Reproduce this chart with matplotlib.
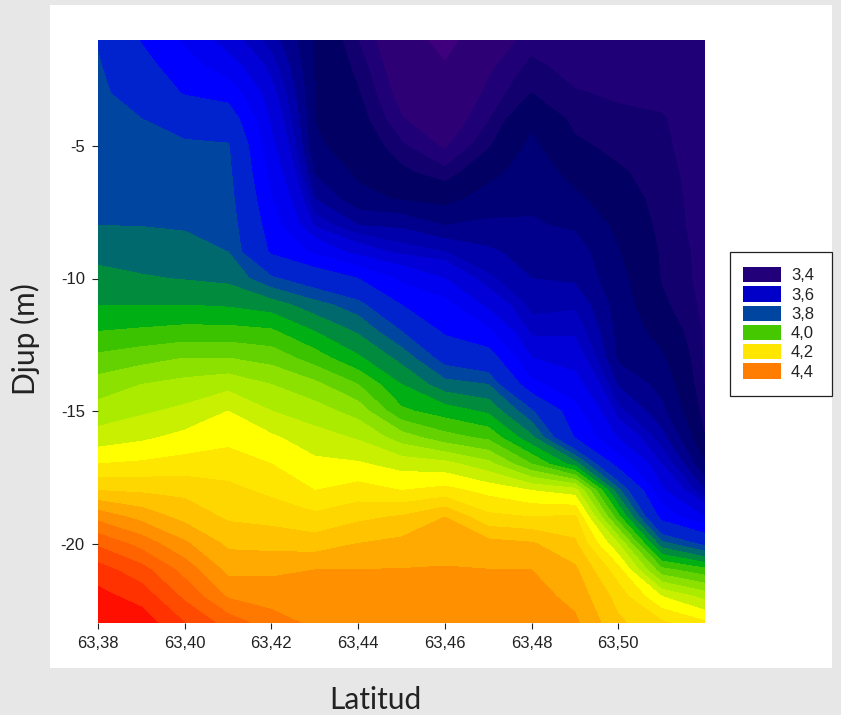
import numpy as np
import matplotlib
matplotlib.use("Agg")
import matplotlib.pyplot as plt
from matplotlib.colors import ListedColormap, BoundaryNorm
from matplotlib.patches import Patch, Rectangle

latitudes = [63.38, 63.39, 63.40, 63.41, 63.42, 63.43, 63.44, 63.45,
             63.46, 63.47, 63.48, 63.49, 63.50, 63.51, 63.52]
depths = list(range(-1, -24, -1))

lat_6338 = [3.745, 3.757, 3.764, 3.771, 3.778, 3.786, 3.793, 3.800, 3.833, 3.867, 3.900, 3.950, 4.012, 4.072, 4.120, 4.171, 4.250, 4.350, 4.483, 4.590, 4.672, 4.717, 4.750]
lat_6339 = [3.645, 3.677, 3.715, 3.751, 3.763, 3.775, 3.787, 3.799, 3.825, 3.855, 3.900, 3.958, 4.031, 4.100, 4.142, 4.190, 4.258, 4.342, 4.433, 4.530, 4.620, 4.680, 4.730]
lat_6340 = [3.570, 3.608, 3.643, 3.723, 3.759, 3.771, 3.783, 3.795, 3.818, 3.847, 3.900, 3.967, 4.050, 4.117, 4.161, 4.215, 4.269, 4.336, 4.383, 4.458, 4.531, 4.589, 4.650]
lat_6341 = [3.495, 3.544, 3.619, 3.700, 3.756, 3.767, 3.778, 3.789, 3.800, 3.838, 3.894, 3.967, 4.050, 4.133, 4.200, 4.236, 4.273, 4.314, 4.342, 4.389, 4.436, 4.494, 4.580]
lat_6342 = [3.450, 3.470, 3.490, 3.510, 3.530, 3.555, 3.583, 3.610, 3.638, 3.760, 3.875, 3.958, 4.031, 4.100, 4.150, 4.208, 4.250, 4.288, 4.332, 4.383, 4.439, 4.481, 4.520]
lat_6343 = [3.397, 3.398, 3.399, 3.3995, 3.403, 3.417, 3.440, 3.475, 3.568, 3.707, 3.821, 3.900, 3.975, 4.063, 4.122, 4.171, 4.212, 4.250, 4.312, 4.375, 4.450, 4.470, 4.490]
lat_6344 = [3.370, 3.376, 3.381, 3.386, 3.391, 3.396, 3.406, 3.440, 3.500, 3.650, 3.771, 3.843, 3.908, 4.000, 4.079, 4.144, 4.206, 4.271, 4.338, 4.400, 4.451, 4.460, 4.470]
lat_6345 = [3.345, 3.349, 3.354, 3.361, 3.372, 3.383, 3.398, 3.436, 3.472, 3.565, 3.650, 3.750, 3.833, 3.900, 3.960, 4.075, 4.180, 4.250, 4.356, 4.414, 4.452, 4.458, 4.465]
lat_6346 = [3.320, 3.332, 3.341, 3.350, 3.358, 3.373, 3.393, 3.420, 3.460, 3.520, 3.600, 3.637, 3.723, 3.820, 3.925, 4.020, 4.167, 4.267, 4.400, 4.433, 4.453, 4.459, 4.465]
lat_6347 = [3.350, 3.357, 3.363, 3.369, 3.378, 3.393, 3.409, 3.424, 3.444, 3.464, 3.507, 3.590, 3.688, 3.800, 3.890, 3.988, 4.117, 4.233, 4.313, 4.418, 4.451, 4.456, 4.460]
lat_6348 = [3.365, 3.373, 3.380, 3.396, 3.404, 3.411, 3.416, 3.422, 3.431, 3.440, 3.453, 3.472, 3.520, 3.596, 3.757, 3.862, 4.000, 4.200, 4.300, 4.405, 4.450, 4.470, 4.500]
lat_6349 = [3.360, 3.365, 3.371, 3.376, 3.383, 3.393, 3.404, 3.417, 3.430, 3.436, 3.456, 3.475, 3.500, 3.540, 3.600, 3.645, 3.875, 4.175, 4.310, 4.360, 4.410, 4.435, 4.460]
lat_6350 = [3.360, 3.364, 3.368, 3.373, 3.376, 3.382, 3.388, 3.395, 3.401, 3.406, 3.410, 3.413, 3.416, 3.437, 3.466, 3.514, 3.615, 3.817, 3.967, 4.150, 4.270, 4.330, 4.360]
lat_6351 = [3.360, 3.363, 3.367, 3.371, 3.372, 3.374, 3.375, 3.376, 3.378, 3.379, 3.383, 3.392, 3.403, 3.413, 3.425, 3.447, 3.480, 3.527, 3.622, 3.817, 4.017, 4.200, 4.310]
lat_6352 = [3.361, 3.362, 3.362, 3.363, 3.364, 3.364, 3.365, 3.365, 3.366, 3.366, 3.367, 3.368, 3.368, 3.369, 3.373, 3.380, 3.400, 3.440, 3.520, 3.730, 3.967, 4.133, 4.260]

columns = [lat_6338, lat_6339, lat_6340, lat_6341, lat_6342, lat_6343, lat_6344, lat_6345,
           lat_6346, lat_6347, lat_6348, lat_6349, lat_6350, lat_6351, lat_6352]

x_ticks = [63.38, 63.40, 63.42, 63.44, 63.46, 63.48, 63.50]
x_labels = ["63,38", "63,40", "63,42", "63,44", "63,46", "63,48", "63,50"]
y_ticks = [-5, -10, -15, -20]
y_labels = ["-5", "-10", "-15", "-20"]
legend_labels = ["3,4", "3,6", "3,8", "4,0", "4,2", "4,4"]
legend_colors = ["#22007a", "#0000c8", "#0046a0", "#46c800", "#ffe600", "#ff7d00"]

levels = [3.25, 3.33, 3.36, 3.37, 3.38, 3.40, 3.42, 3.44, 3.46, 3.48, 3.52, 3.58, 3.65, 3.75,
          3.80, 3.85, 3.90, 3.95, 4.00, 4.05, 4.10, 4.15, 4.20, 4.25, 4.30, 4.35, 4.40,
          4.45, 4.50, 4.55, 4.60, 4.65, 4.70, 4.80]
band_rgb = [(62, 0, 125), (45, 0, 118), (32, 0, 118), (18, 0, 110), (3, 0, 100), (0, 0, 118), (0, 0, 140),
            (0, 0, 170), (0, 0, 190), (0, 0, 215), (0, 0, 240), (0, 0, 255), (0, 35, 205),
            (0, 70, 160), (0, 105, 110), (0, 140, 60), (0, 175, 20), (60, 195, 0), (100, 210, 0),
            (140, 225, 0), (170, 235, 0), (200, 240, 0), (255, 255, 0), (255, 230, 0), (255, 215, 0),
            (255, 195, 0), (255, 170, 0), (255, 145, 0), (255, 120, 0), (255, 100, 0), (255, 75, 0),
            (255, 50, 0), (255, 15, 0)]

W, H = 841, 715
fig = plt.figure(figsize=(W / 100, H / 100), dpi=100, facecolor="#e7e7e7")
fig.add_artist(Rectangle((50 / W, 1 - 668 / H), (832 - 50) / W, (668 - 5) / H,
                         transform=fig.transFigure, facecolor="white", edgecolor="none", zorder=-5))

ax = fig.add_axes([98 / W, 1 - 623 / H, (705 - 98) / W, (623 - 40) / H])
ax.patch.set_alpha(0)
Z = np.array(columns).T
cmap = ListedColormap([tuple(c / 255 for c in rgb) for rgb in band_rgb])
norm = BoundaryNorm(levels, cmap.N)
ax.contourf(latitudes, depths, Z, levels=levels, cmap=cmap, norm=norm)
ax.set_xlim(63.38, 63.52)
ax.set_ylim(-23, -1)
for s in ax.spines.values():
    s.set_visible(False)
ax.set_xticks(x_ticks, x_labels)
ax.set_yticks(y_ticks, y_labels)
ax.tick_params(length=4.5, width=0.8, color="#222222", labelcolor="#222222", labelsize=12, pad=5)
for t in ax.get_xticklabels() + ax.get_yticklabels():
    t.set_fontfamily("Liberation Sans")

fig.text(375 / W, 1 - 700 / H, "Latitud", ha="center", va="center", fontsize=21.5, family="Lato", color="#222222")
fig.text(25 / W, 1 - 339 / H, "Djup (m)", ha="center", va="center", rotation=90, fontsize=21.5, family="Lato", color="#222222")

fig.add_artist(Rectangle((730 / W, 1 - 396 / H), 102 / W, 144 / H, transform=fig.transFigure,
                         facecolor="white", edgecolor="#222222", linewidth=0.9))
handles = [Patch(facecolor=c, edgecolor="none") for c in legend_colors]
leg = fig.legend(handles, legend_labels, loc="upper left", bbox_to_anchor=(743 / W, 1 - 267 / H),
                 borderaxespad=0, frameon=False, prop={"family": "Liberation Sans", "size": 12},
                 handlelength=2.28, handleheight=1.05, labelspacing=0.17, handletextpad=0.6, borderpad=0)
for t in leg.get_texts():
    t.set_color("#222222")

fig.savefig("out.png", dpi=100, facecolor=fig.get_facecolor())
